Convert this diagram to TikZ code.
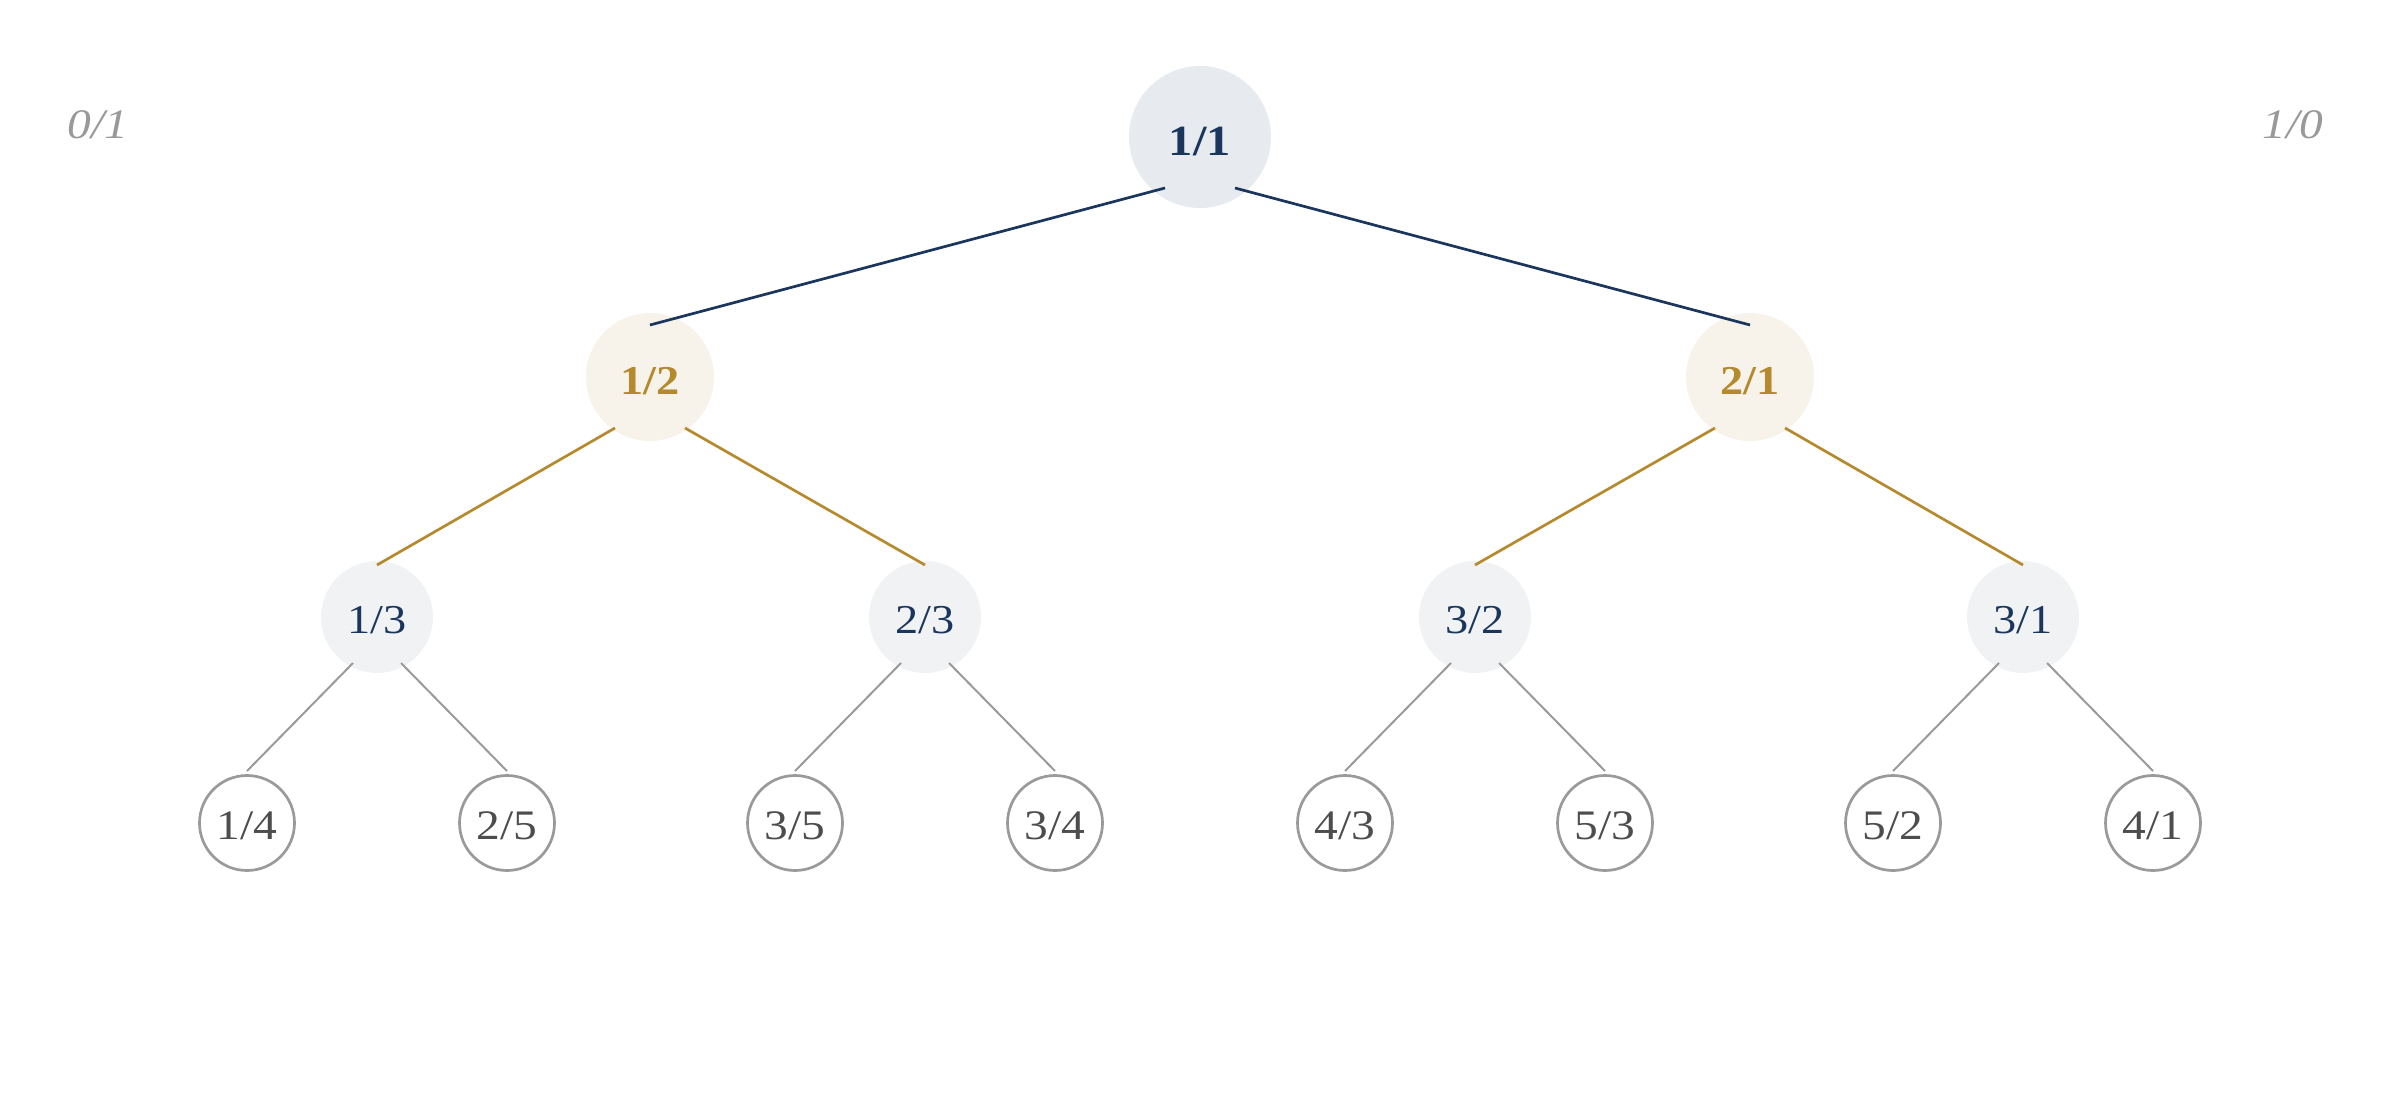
\documentclass[tikz,border=0pt]{standalone}
\usepackage{fontspec}
\setmainfont{Liberation Serif}[FakeStretch=1.13]
\usetikzlibrary{calc}
\definecolor{navy}{HTML}{1B365D}
\definecolor{gold}{HTML}{B58A2E}
\definecolor{rootfill}{HTML}{E7EBF0}
\definecolor{creamfill}{HTML}{F7F3EA}
\definecolor{lightfill}{HTML}{F0F2F4}
\definecolor{greyline}{HTML}{9A9A9A}
\definecolor{leaftext}{HTML}{4D4D4D}
\definecolor{endtext}{HTML}{999999}
\tikzset{
  rootnode/.style={circle,fill=rootfill,minimum size=142pt,inner sep=0pt,text height=36pt,text depth=0pt,text=navy,font=\fontsize{43}{43}\selectfont\bfseries},
  midnode/.style={circle,fill=creamfill,minimum size=128pt,inner sep=0pt,text height=34pt,text depth=0pt,text=gold,font=\fontsize{41}{41}\selectfont\bfseries},
  lownode/.style={circle,fill=lightfill,minimum size=112pt,inner sep=0pt,text height=33pt,text depth=0pt,text=navy,font=\fontsize{41}{41}\selectfont},
  leafnode/.style={circle,draw=greyline,line width=2.7pt,fill=white,minimum size=95pt,inner sep=0pt,text height=33pt,text depth=0pt,text=leaftext,font=\fontsize{42}{42}\selectfont},
  endlabel/.style={text=endtext,text height=33pt,text depth=0pt,inner sep=0pt,font=\fontsize{42}{42}\selectfont\itshape},
  navyedge/.style={draw=navy,line width=2.7pt},
  goldedge/.style={draw=gold,line width=2.7pt},
  greyedge/.style={draw=greyline,line width=2pt},
}
\begin{document}
\begin{tikzpicture}[x=1pt,y=-1pt]
\useasboundingbox (0,0) rectangle (2400,1097);
% nodes
\node[rootnode] (r) at (1200,137) {1/1};
\node[midnode] (a) at (650,377) {1/2};
\node[midnode] (b) at (1750,377) {2/1};
\node[lownode] (aa) at (377,617) {1/3};
\node[lownode] (ab) at (925,617) {2/3};
\node[lownode] (ba) at (1475,617) {3/2};
\node[lownode] (bb) at (2023,617) {3/1};
\node[leafnode] (l1) at (247,823) {1/4};
\node[leafnode] (l2) at (507,823) {2/5};
\node[leafnode] (l3) at (795,823) {3/5};
\node[leafnode] (l4) at (1055,823) {3/4};
\node[leafnode] (l5) at (1345,823) {4/3};
\node[leafnode] (l6) at (1605,823) {5/3};
\node[leafnode] (l7) at (1893,823) {5/2};
\node[leafnode] (l8) at (2153,823) {4/1};
\node[endlabel] (z) at (98,122) {0/1};
\node[endlabel] (inf) at (2293,122) {1/0};
% edges
\draw[navyedge] ($(r.center)+(-35,51)$) -- ($(a.center)+(0,-52)$);
\draw[navyedge] ($(r.center)+(35,51)$) -- ($(b.center)+(0,-52)$);
\draw[goldedge] ($(a.center)+(-35,51)$) -- ($(aa.center)+(0,-52)$);
\draw[goldedge] ($(a.center)+(35,51)$) -- ($(ab.center)+(0,-52)$);
\draw[goldedge] ($(b.center)+(-35,51)$) -- ($(ba.center)+(0,-52)$);
\draw[goldedge] ($(b.center)+(35,51)$) -- ($(bb.center)+(0,-52)$);
\draw[greyedge] ($(aa.center)+(-24,46)$) -- ($(l1.center)+(0,-52)$);
\draw[greyedge] ($(aa.center)+(24,46)$) -- ($(l2.center)+(0,-52)$);
\draw[greyedge] ($(ab.center)+(-24,46)$) -- ($(l3.center)+(0,-52)$);
\draw[greyedge] ($(ab.center)+(24,46)$) -- ($(l4.center)+(0,-52)$);
\draw[greyedge] ($(ba.center)+(-24,46)$) -- ($(l5.center)+(0,-52)$);
\draw[greyedge] ($(ba.center)+(24,46)$) -- ($(l6.center)+(0,-52)$);
\draw[greyedge] ($(bb.center)+(-24,46)$) -- ($(l7.center)+(0,-52)$);
\draw[greyedge] ($(bb.center)+(24,46)$) -- ($(l8.center)+(0,-52)$);
\end{tikzpicture}
\end{document}
